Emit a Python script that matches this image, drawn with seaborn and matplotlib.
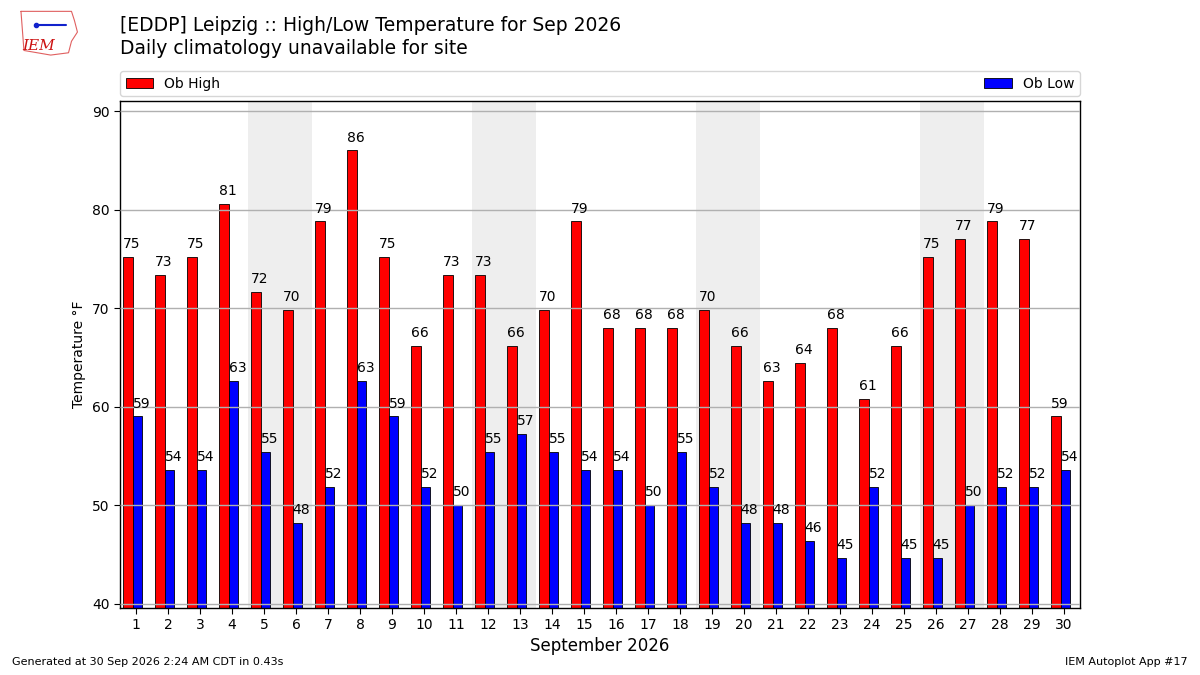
import numpy as np
import pandas as pd
import matplotlib
matplotlib.use("Agg")
import matplotlib.pyplot as plt
import seaborn as sns

days = list(range(1, 31))
highs = [75.2, 73.4, 75.2, 80.6, 71.6, 69.8, 78.8, 86.0, 75.2, 66.2,
         73.4, 73.4, 66.2, 69.8, 78.8, 68.0, 68.0, 68.0, 69.8, 66.2,
         62.6, 64.4, 68.0, 60.8, 66.2, 75.2, 77.0, 78.8, 77.0, 59.0]
lows = [59.0, 53.6, 53.6, 62.6, 55.4, 48.2, 51.8, 62.6, 59.0, 51.8,
        50.0, 55.4, 57.2, 55.4, 53.6, 53.6, 50.0, 55.4, 51.8, 48.2,
        48.2, 46.4, 44.6, 51.8, 44.6, 44.6, 50.0, 51.8, 51.8, 53.6]
weekends = [(5, 6), (12, 13), (19, 20), (26, 27)]

sns.set_style("white", {'text.color': 'black', 'axes.labelcolor': 'black',
                        'xtick.color': 'black', 'ytick.color': 'black',
                        'axes.edgecolor': 'black'})
plt.rcParams['font.family'] = ['DejaVu Sans']

df = pd.DataFrame({'day': days, 'high': highs, 'low': lows})
df['xh'] = df['day'] - 0.25
df['xl'] = df['day'] + 0.05

fig = plt.figure(figsize=(12, 6.75), dpi=100)
ax = fig.add_axes([0.1, 0.1, 0.8, 0.75])

for a, b in weekends:
    ax.axvspan(a - 0.5, b + 0.5, color='#eeeeee', zorder=0, lw=0)

sns.barplot(data=df, x='xh', y='high', native_scale=True, width=0.3,
            color='red', saturation=1, edgecolor='black', linewidth=0.6,
            errorbar=None, ax=ax, label='Ob High')
sns.barplot(data=df, x='xl', y='low', native_scale=True, width=0.3,
            color='blue', saturation=1, edgecolor='black', linewidth=0.6,
            errorbar=None, ax=ax, label='Ob Low')

for d, h, l in zip(days, highs, lows):
    ax.text(d - 0.4, h + 0.6, f"{h:.0f}", ha='left', va='bottom', fontsize=10, color='black')
    ax.text(d - 0.1, l + 0.6, f"{l:.0f}", ha='left', va='bottom', fontsize=10, color='black')

ax.set_xlim(0.5, 30.5)
ax.set_ylim(min(lows) - 5, max(highs) + 5)
ax.set_xticks(days)
ax.set_xticklabels([str(d) for d in days])
ax.set_yticks(range(40, 91, 10))
ax.tick_params(axis='both', labelsize=10, length=4, direction='out', bottom=True, left=True,
               colors='black')
ax.set_axisbelow(False)
ax.yaxis.grid(True, color='#b0b0b0', lw=1)
ax.xaxis.grid(False)
for s in ax.spines.values():
    s.set_color('black')
    s.set_linewidth(1)
ax.set_xlabel("September 2026", fontsize=12, color='black')
ax.set_ylabel("Temperature °F", fontsize=10, color='black')

leg = ax.legend(loc='lower left', bbox_to_anchor=(0, 1.01, 1, 0.05), mode='expand',
                ncol=2, borderaxespad=0, fontsize=10, frameon=True)
for t in leg.get_texts():
    t.set_color('black')

fig.text(0.1, 0.962, "[EDDP] Leipzig :: High/Low Temperature for Sep 2026",
         fontsize=13.5, va='center', ha='left', color='black')
fig.text(0.1, 0.928, "Daily climatology unavailable for site",
         fontsize=13.5, va='center', ha='left', color='black')
fig.text(0.01, 0.015, "Generated at 30 Sep 2026 2:24 AM CDT in 0.43s", fontsize=8, color='black')
fig.text(0.99, 0.015, "IEM Autoplot App #17", fontsize=8, ha='right', color='black')

# small stand-in for the IEM logo
lax = fig.add_axes([0.015, 0.915, 0.052, 0.075])
lax.plot([0.05, 0.9, 0.95, 1.0, 0.9, 0.85, 0.55, 0.1, 0.05],
         [0.95, 0.95, 0.75, 0.5, 0.3, 0.05, 0.0, 0.1, 0.95], color='#e06060', lw=0.8)
lax.text(0.35, 0.2, "IEM", color='#cc1111', fontsize=11, family='DejaVu Serif',
         style='italic', ha='center', va='center')
lax.plot([0.3, 0.8], [0.65, 0.65], color='#1122cc', lw=1.5)
lax.plot([0.3], [0.65], 'o', color='#1122cc', ms=3)
lax.set_xlim(0, 1.05)
lax.set_ylim(-0.05, 1.05)
lax.axis('off')

fig.savefig("out.png", dpi=100)
